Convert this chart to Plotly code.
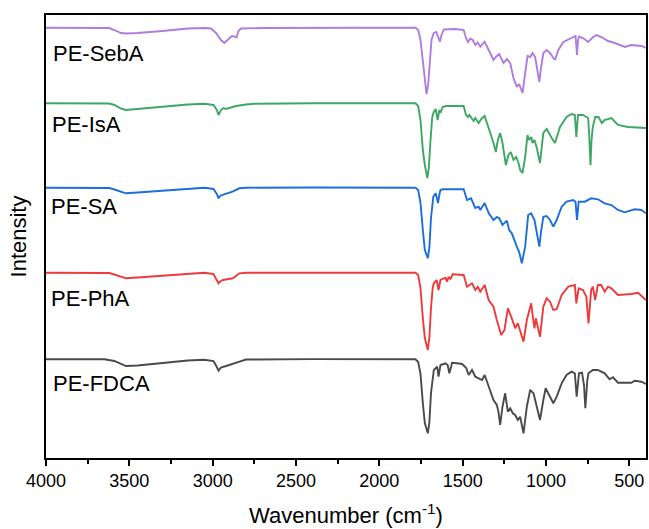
import plotly.graph_objects as go

# ---------------- data (wavenumber in cm-1, stacked intensity in a.u.) ----------------
sebA_wn = [4000, 3700, 3620, 3590, 3550, 3520, 3450, 3300, 3150, 3050, 3010, 2980, 2950, 2930, 2910,
           2885, 2870, 2857, 2845, 2830, 2700, 2400, 2100, 1783, 1767, 1753, 1739, 1727, 1717, 1707,
           1697, 1687, 1673, 1659, 1647, 1637, 1627, 1613, 1543, 1494, 1480, 1468, 1454, 1440, 1424,
           1410, 1394, 1368, 1344, 1325, 1315, 1301, 1281, 1255, 1235, 1215, 1195, 1175, 1161, 1141,
           1125, 1111, 1095, 1081, 1065, 1052, 1040, 1030, 1016, 996, 976, 956, 946, 926, 896, 847,
           823, 817, 814, 808, 802, 778, 747, 717, 697, 667, 628, 587, 527, 488, 428, 400]
sebA_int = [430.3, 430.5, 430, 428, 425, 424.5, 425, 427, 429.5, 430, 429.5, 425, 418, 415, 418,
            422, 421.5, 420.5, 427, 429.5, 430, 430.4, 430.2, 430.3, 428, 418, 396, 373, 364, 373,
            398, 418, 425, 426, 421, 416.3, 423, 428.5, 429, 428, 420, 416, 419.5, 418, 413,
            415.5, 411.3, 416.3, 408, 401, 398, 401, 404, 395, 399, 395, 380, 371, 374, 365,
            383, 402, 401, 405, 401, 388, 376, 390, 405, 408, 405, 400, 398, 408, 416, 420,
            422, 410, 403, 418, 421.5, 420, 416, 421, 423, 421, 417, 415, 411, 413, 412, 410]

isA_wn = [4000, 3620, 3590, 3550, 3520, 3450, 3300, 3150, 3050, 2995, 2975, 2965, 2950, 2935, 2920,
          2895, 2860, 2800, 2750, 2400, 2100, 1783, 1767, 1753, 1739, 1727, 1712, 1703, 1693, 1683,
          1676, 1662, 1650, 1640, 1633, 1621, 1600, 1543, 1494, 1480, 1468, 1460, 1448, 1434, 1424,
          1410, 1404, 1388, 1368, 1354, 1334, 1315, 1301, 1289, 1275, 1261, 1241, 1225, 1211, 1195,
          1179, 1165, 1155, 1141, 1125, 1111, 1101, 1089, 1081, 1069, 1055, 1036, 1016, 996, 966,
          946, 916, 877, 847, 827, 818, 808, 778, 747, 741, 733, 727, 719, 705, 685, 665, 649, 608,
          568, 508, 400]
isA_int = [354.7, 354.5, 353, 349.5, 348, 349, 351.5, 353.5, 354.3, 353, 348, 343, 348, 350, 349,
           350.5, 352, 353.5, 354.2, 354.8, 354.6, 354.7, 352, 338, 308, 293, 280, 290, 318, 340,
           345, 349, 338, 348, 345, 351, 352, 352, 352, 343, 341, 343, 340, 337, 340,
           336, 335, 339, 342, 335, 325, 315, 306, 318, 325, 315, 293, 303, 306, 298,
           301, 295, 288, 285, 301, 323, 318, 321, 315, 318, 310, 295, 325, 329, 320,
           315, 331, 341, 344, 343, 321, 343, 343, 340, 323, 293, 318, 331, 341, 341, 335, 338, 340,
           333, 331, 330]

sa_wn = [4000, 3620, 3590, 3550, 3520, 3450, 3300, 3150, 3050, 2995, 2975, 2965, 2955, 2945, 2900,
         2881, 2840, 2800, 2400, 2100, 1783, 1767, 1753, 1739, 1727, 1709, 1700, 1690, 1680, 1676,
         1662, 1648, 1638, 1633, 1620, 1494, 1474, 1450, 1424, 1404, 1394, 1368, 1344, 1315, 1295,
         1281, 1261, 1235, 1221, 1205, 1175, 1161, 1145, 1125, 1107, 1089, 1069, 1052, 1040, 1030,
         1016, 996, 976, 956, 936, 906, 877, 837, 823, 814, 804, 768, 728, 688, 648, 608, 568, 528,
         468, 428, 400]
sa_int = [270.3, 270, 268.5, 266, 264.7, 265.5, 267.5, 269.5, 270.3, 269, 264, 259.7, 262, 263, 265,
          266.3, 269.7, 270.3, 270.5, 270.2, 270.3, 268, 255, 228, 208, 199.7, 210, 240, 260, 261.3,
          264.7, 255, 265, 268, 268.7, 268.7, 258, 259.7, 250, 251.3, 248, 255, 245, 238, 241,
          240, 233, 237.3, 228, 224.7, 211.3, 206, 194.7, 211.3, 243, 244.7, 238, 223, 211.3, 226,
          241.3, 242, 238, 231.3, 238, 251.3, 256.3, 258, 256.3, 238, 256.3, 256.3, 259.7, 258.7,
          254.7, 253, 248, 245.7, 248.7, 248, 244.7]

phA_wn = [4000, 3620, 3590, 3550, 3520, 3450, 3300, 3150, 3050, 2995, 2975, 2965, 2955, 2938, 2879,
          2840, 2800, 2400, 2100, 1783, 1767, 1753, 1739, 1727, 1709, 1700, 1690, 1680, 1673, 1656,
          1645, 1633, 1603, 1594, 1584, 1574, 1560, 1494, 1474, 1444, 1424, 1410, 1394, 1368, 1344,
          1315, 1295, 1269, 1249, 1229, 1209, 1185, 1169, 1155, 1135, 1115, 1089, 1079, 1069, 1061,
          1036, 1016, 996, 976, 956, 936, 906, 866, 827, 818, 804, 778, 758, 745, 729, 719, 705, 689,
          669, 648, 628, 608, 568, 488, 448, 400]
phA_int = [185.3, 185, 183.5, 181, 179.7, 180.5, 182.5, 184.5, 185.3, 184, 178, 174.7, 176.5, 178, 179.7,
           184.7, 185.3, 185.5, 185.2, 185.3, 183, 170, 140, 120, 108, 120, 150, 170, 174.7, 178,
           168, 178, 180.3, 176.3, 181.3, 178.7, 183.7, 183, 171.3, 174.7, 168, 171.3, 166.3, 173, 158,
           151.3, 138, 123, 128, 149.7, 141.3, 129.7, 134.7, 128, 116.3, 138, 154.7, 141.3, 129.7, 139.7,
           121.3, 151.3, 159.7, 156.3, 148, 148.7, 163, 171.3, 173, 154.7, 169.7, 168, 161.3, 134.7, 168,
           171.3, 158, 173, 173, 166.3, 171.3, 169.7, 163, 164, 165.3, 158]

fdca_wn = [4000, 3650, 3590, 3550, 3520, 3450, 3300, 3150, 3050, 2995, 2975, 2965, 2950, 2938, 2910,
           2839, 2800, 2400, 2100, 1783, 1767, 1753, 1739, 1727, 1709, 1700, 1690, 1680, 1673, 1653,
           1645, 1633, 1603, 1590, 1580, 1568, 1564, 1534, 1504, 1486, 1478, 1464, 1444, 1424, 1404,
           1384, 1368, 1344, 1315, 1295, 1285, 1275, 1261, 1245, 1229, 1215, 1199, 1185, 1169, 1155,
           1135, 1115, 1095, 1075, 1055, 1036, 1016, 1002, 976, 956, 936, 906, 877, 847, 827, 816,
           802, 784, 772, 764, 752, 745, 719, 689, 648, 618, 598, 568, 528, 488, 468, 428, 400]
fdca_int = [98.7, 98.7, 97, 94, 92, 92.5, 95, 97.5, 98.3, 97, 91, 87.3, 90.5, 91.3, 92.5,
            96.3, 98.5, 98.9, 98.6, 98.7, 96, 84, 55, 35, 24.7, 35, 65, 82, 88, 91.3,
            81.3, 93, 94.7, 93, 84.7, 92, 95.3, 94.7, 94, 91.3, 89.7, 83, 88, 81.3, 79.7,
            78, 83, 71.3, 58, 53, 46, 33, 51.3, 64.7, 46.3, 49.7, 44.7, 43, 38, 41.3,
            24.7, 51.3, 68, 64.7, 51.3, 38, 58, 69.7, 61.3, 54.7, 61.3, 74.7, 83, 86.3, 84.7, 61.3,
            84.7, 85.3, 73, 49.7, 78, 84.7, 88, 88, 84.7, 78.7, 80.7, 75.3, 75.3, 75.3, 77.3, 76.3, 74]

series_names = ["PE-SebA", "PE-IsA", "PE-SA", "PE-PhA", "PE-FDCA"]
label_x = [3970, 3975, 3985, 3985, 3970]
label_y = [405, 334, 252, 160, 75]

x_ticks = [4000, 3500, 3000, 2500, 2000, 1500, 1000, 500]
x_tick_text = ["4000", "3500", "3000", "2500", "2000", "1500", "1000", "500"]

colors = ["#B07CDD", "#3CA864", "#1C6FDB", "#EE3A3A", "#4A4A4A"]
FONT = "Arial, Liberation Sans, sans-serif"

fig = go.Figure()
all_x = [sebA_wn, isA_wn, sa_wn, phA_wn, fdca_wn]
all_y = [sebA_int, isA_int, sa_int, phA_int, fdca_int]
for name, xs, ys, c in zip(series_names, all_x, all_y, colors):
    fig.add_trace(go.Scatter(x=xs, y=ys, mode="lines", name=name,
                             line=dict(color=c, width=1.9), showlegend=False))

for name, lx, ly in zip(series_names, label_x, label_y):
    fig.add_annotation(x=lx, y=ly, xref="x", yref="y", text=name, showarrow=False,
                       xanchor="left", yanchor="middle",
                       font=dict(family=FONT, size=22, color="black"))

fig.update_layout(
    width=649, height=529,
    margin=dict(l=46, r=1, t=15, b=71),
    paper_bgcolor="white", plot_bgcolor="white",
    font=dict(family=FONT, color="black"),
)
fig.update_xaxes(
    range=[4000, 400], tickvals=x_ticks, ticktext=x_tick_text,
    ticks="outside", ticklen=6, tickwidth=1.5, tickcolor="black",
    minor=dict(ticks="outside", ticklen=4, tickwidth=1.5, tickcolor="black", dtick=250, tick0=0),
    showline=True, linecolor="black", linewidth=1.5, mirror=True,
    showgrid=False, zeroline=False,
    tickfont=dict(family=FONT, size=18, color="black"),
    title=dict(text="Wavenumber (cm<sup>-1</sup>)", font=dict(family=FONT, size=22, color="black"),
               standoff=17),
)
fig.update_yaxes(
    range=[0, 443], showticklabels=False, ticks="",
    showline=True, linecolor="black", linewidth=1.5, mirror=True,
    showgrid=False, zeroline=False,
    title=dict(text="Intensity", font=dict(family=FONT, size=22, color="black"), standoff=12),
)

page_js = ("document.body.style.margin='0';document.body.style.padding='0';"
           "document.body.style.overflow='hidden';"
           "document.documentElement.style.overflow='hidden';")
fig.write_html("out.html", post_script=page_js, config={"displayModeBar": False})
